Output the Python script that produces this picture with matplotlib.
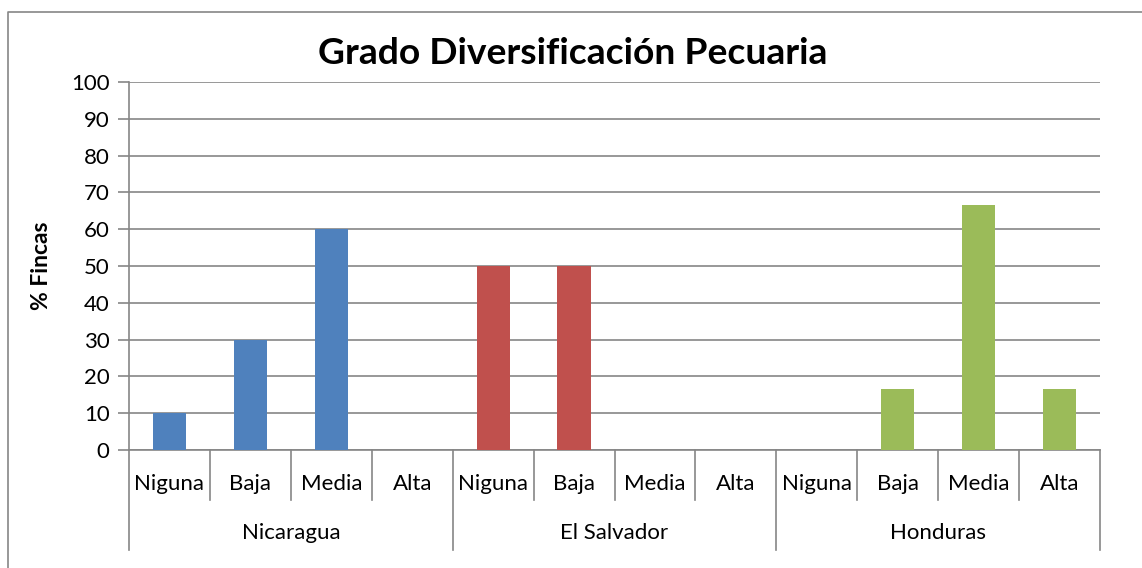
import numpy as np
import matplotlib.pyplot as plt
from matplotlib.lines import Line2D
from matplotlib.transforms import blended_transform_factory

plt.rcParams['font.family'] = ['Lato', 'DejaVu Sans']

countries = ['Nicaragua', 'El Salvador', 'Honduras']
levels = ['Niguna', 'Baja', 'Media', 'Alta']
nicaragua = [10, 30, 60, 0]
el_salvador = [50, 50, 0, 0]
honduras = [0, 16.7, 66.7, 16.7]
colors = ['#4F81BD', '#C0504D', '#9BBB59']

W, H = 1142, 568
fig = plt.figure(figsize=(W / 100, H / 100), dpi=100)
ax = fig.add_axes([129 / W, (H - 450) / H, (1100 - 129) / W, (450 - 82) / H])

grid_c = '#868686'
n = len(levels)
for g, (vals, c) in enumerate(zip([nicaragua, el_salvador, honduras], colors)):
    x = np.arange(n) + g * n + 0.5
    ax.bar(x, vals, width=0.41, color=c, zorder=3)

ax.set_xlim(0, n * len(countries))
ax.set_ylim(0, 100)
ax.set_yticks(np.arange(0, 101, 10))
ax.yaxis.grid(True, color=grid_c, linewidth=1.2)
ax.set_axisbelow(True)
ax.tick_params(axis='y', length=8, color=grid_c, width=1.2, labelsize=16, pad=6)
ax.set_xticks([])
for s in ['top', 'right']:
    ax.spines[s].set_visible(False)
for s in ['left', 'bottom']:
    ax.spines[s].set_color(grid_c)
    ax.spines[s].set_linewidth(1.2)

ax.set_ylabel('% Fincas', fontsize=16.5, fontweight='bold')
ax.yaxis.set_label_coords(-77 / 971, 0.5)

# multi-level category axis
trans = blended_transform_factory(ax.transData, ax.transAxes)
y_inner = -50 / 368
y_outer = -100 / 368
for k in range(n * len(countries) + 1):
    bottom = y_outer if k % n == 0 else y_inner
    ax.plot([k, k], [0, bottom], color=grid_c, linewidth=1.2,
            transform=trans, clip_on=False)
for g, country in enumerate(countries):
    for i, lev in enumerate(levels):
        ax.text(g * n + i + 0.5, -34 / 368, lev, transform=trans,
                ha='center', va='center', fontsize=16)
    ax.text(g * n + n / 2, -83 / 368, country, transform=trans,
            ha='center', va='center', fontsize=16)

fig.text(573 / W, 1 - 54 / H, 'Grado Diversificación Pecuaria',
         ha='center', va='center', fontsize=26.8, fontweight='bold')

# chart-area border (only left and top edges fall inside the picture)
x0, y0 = 7.5 / W, 1 - 11.5 / H
fig.lines.append(Line2D([x0, x0, 1.01], [-0.01, y0, y0], transform=fig.transFigure,
                        color=grid_c, linewidth=1.2))

fig.savefig('out.png', dpi=100)
